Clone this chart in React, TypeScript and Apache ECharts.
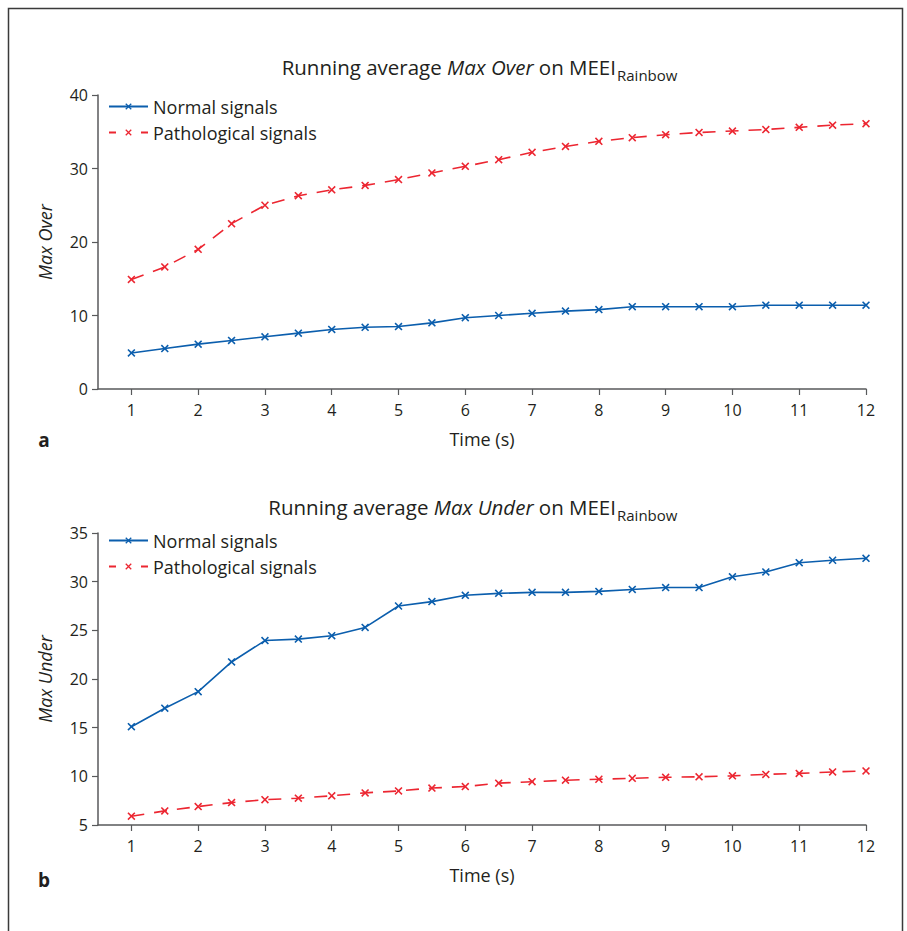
import React, { useEffect, useRef } from "react";
import * as echarts from "echarts";

const xValues = [1, 1.5, 2, 2.5, 3, 3.5, 4, 4.5, 5, 5.5, 6, 6.5, 7, 7.5, 8, 8.5, 9, 9.5, 10, 10.5, 11, 11.5, 12];
const xTicks = [1, 2, 3, 4, 5, 6, 7, 8, 9, 10, 11, 12];

const overNormal = [4.9, 5.5, 6.1, 6.6, 7.1, 7.6, 8.1, 8.4, 8.5, 9.0, 9.7, 10.0, 10.3, 10.6, 10.8, 11.2, 11.2, 11.2, 11.2, 11.4, 11.4, 11.4, 11.4];
const overPatho = [14.9, 16.6, 19.0, 22.5, 25.0, 26.3, 27.1, 27.7, 28.5, 29.4, 30.3, 31.2, 32.2, 33.0, 33.7, 34.2, 34.6, 34.9, 35.1, 35.3, 35.6, 35.9, 36.1];

const underNormal = [15.1, 17.0, 18.7, 21.75, 23.95, 24.1, 24.45, 25.3, 27.5, 27.95, 28.6, 28.8, 28.9, 28.9, 29.0, 29.2, 29.4, 29.4, 30.5, 31.0, 31.95, 32.2, 32.4];
const underPatho = [5.9, 6.45, 6.9, 7.3, 7.6, 7.75, 8.0, 8.3, 8.5, 8.8, 8.95, 9.3, 9.45, 9.6, 9.7, 9.8, 9.9, 9.95, 10.05, 10.2, 10.3, 10.45, 10.55];

const seriesNames = ["Normal signals", "Pathological signals"];

const BLUE = "#0b5ead";
const RED = "#ec2631";
const TEXT = "#231f20";
const AXIS = "#58595b";
const FONT = "'Open Sans', sans-serif";
const XMARK = "path://M0,1.4L1.4,0L5,3.6L8.6,0L10,1.4L6.4,5L10,8.6L8.6,10L5,6.4L1.4,10L0,8.6L3.6,5Z";

const pairs = (vals: number[]) => xValues.map((x, i) => [x, vals[i]]);

export default function App() {
  const ref = useRef<HTMLDivElement>(null);
  useEffect(() => {
    if (!ref.current) return;
    const chart = echarts.init(ref.current, null, { renderer: "svg" });

    const xAxisBase = (gridIndex: number) => ({
      type: "value" as const,
      gridIndex,
      min: 0.5,
      max: 12,
      name: "Time (s)",
      nameLocation: "middle" as const,
      nameGap: 41,
      nameTextStyle: { fontFamily: FONT, fontSize: 18, color: TEXT },
      axisLine: { show: true, lineStyle: { color: AXIS, width: 1.5 } },
      axisTick: { show: true, inside: false, length: 6, customValues: xTicks, lineStyle: { color: AXIS, width: 1.2 } },
      axisLabel: { customValues: xTicks, margin: 13, fontFamily: FONT, fontSize: 16, color: TEXT },
      splitLine: { show: false },
    });

    const yAxisBase = (gridIndex: number, min: number, max: number, interval: number, name: string) => ({
      type: "value" as const,
      gridIndex,
      min,
      max,
      interval,
      name,
      nameLocation: "middle" as const,
      nameGap: 44,
      nameTextStyle: { fontFamily: FONT, fontSize: 18, color: TEXT, fontStyle: "italic" },
      axisLine: { show: true, lineStyle: { color: AXIS, width: 1.5 } },
      axisTick: { show: true, inside: false, length: 6, lineStyle: { color: AXIS, width: 1.2 } },
      axisLabel: { margin: 10, fontFamily: FONT, fontSize: 16, color: TEXT },
      splitLine: { show: false },
    });

    const mkSeries = (name: string, vals: number[], idx: number, color: string, dashed: boolean) => ({
      name,
      type: "line" as const,
      xAxisIndex: idx,
      yAxisIndex: idx,
      data: pairs(vals),
      symbol: XMARK,
      symbolSize: 8,
      showSymbol: true,
      itemStyle: { color },
      lineStyle: { color, width: 1.6, type: dashed ? [13, 10] : "solid" },
      emphasis: { disabled: true },
    });

    const legendBase = (top: number) => ({
      orient: "vertical" as const,
      left: 108,
      top,
      padding: 0,
      itemWidth: 39,
      itemHeight: 8,
      itemGap: 7,
      textStyle: { fontFamily: FONT, fontSize: 18, color: TEXT, lineHeight: 19 },
      selectedMode: false,
    });

    const titleGraphic = (y: number, ital: string) => [
      {
        type: "text",
        x: 616,
        y,
        style: {
          text: "{n|Running average }{i|" + ital + "}{n| on MEEI}",
          rich: {
            n: { fontFamily: FONT, fontSize: 20.5, fill: TEXT },
            i: { fontFamily: FONT, fontSize: 20.5, fill: TEXT, fontStyle: "italic" },
          },
          align: "right",
          verticalAlign: "middle",
        },
      },
      {
        type: "text",
        x: 617,
        y: y + 8,
        style: {
          text: "Rainbow",
          fontFamily: FONT,
          fontSize: 15,
          fill: TEXT,
          align: "left",
          verticalAlign: "middle",
        },
      },
    ];

    chart.setOption({
      animation: false,
      backgroundColor: "#ffffff",
      grid: [
        { left: 98, right: 41, top: 95, height: 294, containLabel: false },
        { left: 98, right: 41, top: 533, height: 292, containLabel: false },
      ],
      legend: [
        {
          ...legendBase(97),
          data: [
            { name: seriesNames[0] },
            { name: seriesNames[1], lineStyle: { type: [7, 25] } },
          ],
        },
        {
          ...legendBase(531),
          data: [
            { name: seriesNames[0] + " " },
            { name: seriesNames[1] + " ", lineStyle: { type: [7, 25] } },
          ],
          formatter: (n: string) => n.trim(),
        },
      ],
      xAxis: [xAxisBase(0), xAxisBase(1)],
      yAxis: [
        yAxisBase(0, 0, 40, 10, "Max Over"),
        yAxisBase(1, 5, 35, 5, "Max Under"),
      ],
      series: [
        mkSeries(seriesNames[0], overNormal, 0, BLUE, false),
        mkSeries(seriesNames[1], overPatho, 0, RED, true),
        mkSeries(seriesNames[0] + " ", underNormal, 1, BLUE, false),
        mkSeries(seriesNames[1] + " ", underPatho, 1, RED, true),
      ],
      graphic: [
        {
          type: "rect",
          shape: { x: 8.5, y: 8.5, width: 894, height: 940 },
          style: { fill: "none", stroke: "#3a3a3a", lineWidth: 1.5 },
          silent: true,
        },
        ...titleGraphic(67, "Max Over"),
        ...titleGraphic(507, "Max Under"),
        {
          type: "text",
          x: 44,
          y: 440,
          style: { text: "a", fontFamily: FONT, fontSize: 19, fontWeight: "bold", fill: TEXT, align: "center", verticalAlign: "middle" },
        },
        {
          type: "text",
          x: 44,
          y: 880,
          style: { text: "b", fontFamily: FONT, fontSize: 19, fontWeight: "bold", fill: TEXT, align: "center", verticalAlign: "middle" },
        },
      ],
    });

    return () => chart.dispose();
  }, []);

  return (
    <div
      ref={ref}
      style={{ position: "absolute", left: 0, top: 0, width: 907, height: 931 }}
    />
  );
}
